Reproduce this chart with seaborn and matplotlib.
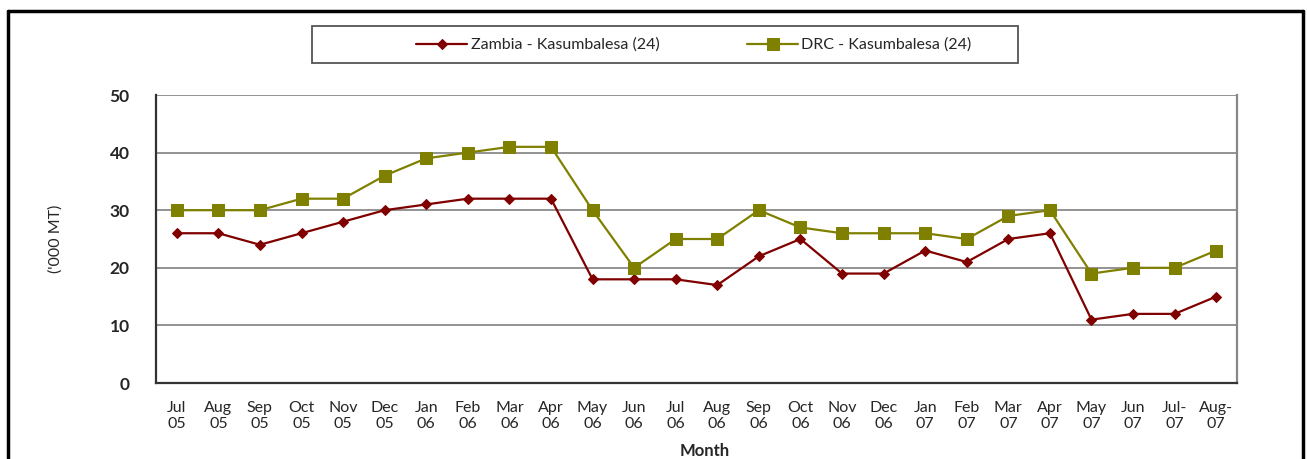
import pandas as pd
import matplotlib.pyplot as plt
import seaborn as sns
from matplotlib.lines import Line2D
from matplotlib.patches import Rectangle
from matplotlib.ticker import FixedLocator

months = ["Jul\n05", "Aug\n05", "Sep\n05", "Oct\n05", "Nov\n05", "Dec\n05",
          "Jan\n06", "Feb\n06", "Mar\n06", "Apr\n06", "May\n06", "Jun\n06",
          "Jul\n06", "Aug\n06", "Sep\n06", "Oct\n06", "Nov\n06", "Dec\n06",
          "Jan\n07", "Feb\n07", "Mar\n07", "Apr\n07", "May\n07", "Jun\n07",
          "Jul-\n07", "Aug-\n07"]
zambia = [26, 26, 24, 26, 28, 30, 31, 32, 32, 32, 18, 18, 18, 17, 22, 25,
          19, 19, 23, 21, 25, 26, 11, 12, 12, 15]
drc = [30, 30, 30, 32, 32, 36, 39, 40, 41, 41, 30, 20, 25, 25, 30, 27,
       26, 26, 26, 25, 29, 30, 19, 20, 20, 23]
series_names = ["Zambia - Kasumbalesa (24)", "DRC - Kasumbalesa (24)"]
colors = ["#800000", "#808000"]
markers = ["D", "s"]
marker_sizes = [5.5, 8.5]

sns.set_style("white")
plt.rcParams['font.family'] = ['Lato', 'DejaVu Sans']

W, H = 1307, 459
fig = plt.figure(figsize=(W / 100, H / 100), dpi=100)
ax = fig.add_axes([156 / W, 1 - 383 / H, (1237 - 156) / W, (383 - 95) / H])

x = list(range(len(months)))
for name, vals, c, m, ms in zip(series_names, [zambia, drc], colors, markers, marker_sizes):
    df = pd.DataFrame({"x": x, "value": vals})
    sns.lineplot(data=df, x="x", y="value", ax=ax, color=c, marker=m,
                 markersize=ms, markeredgecolor=c, linewidth=1.6, label=name)

ax.set_xlim(-0.5, len(months) - 0.5)
ax.set_ylim(0, 50)
ax.set_yticks([0, 10, 20, 30, 40, 50])
ax.set_yticklabels(["0", "10", "20", "30", "40", "50"], fontsize=12.5, fontweight="bold")
ax.set_xticks(x)
ax.set_xticklabels(months, fontsize=11.5, linespacing=1.15)
ax.xaxis.set_minor_locator(FixedLocator([i - 0.5 for i in range(len(months) + 1)]))
ax.tick_params(axis="x", which="major", length=0, pad=13)
ax.tick_params(axis="x", which="minor", length=5, width=1.2, color="#333333", direction="out")
ax.tick_params(axis="y", length=5, width=1.2, color="#333333", direction="out", pad=14)
ax.grid(axis="y", color="#808080", linewidth=1.2)
ax.set_axisbelow(True)

ax.spines["top"].set_visible(False)
ax.spines["left"].set_color("#333333")
ax.spines["left"].set_linewidth(1.6)
ax.spines["bottom"].set_color("#333333")
ax.spines["bottom"].set_linewidth(1.6)
ax.spines["right"].set_color("#888888")
ax.spines["right"].set_linewidth(1.6)

ax.set_xlabel("Month", fontsize=12, fontweight="bold")
ax.xaxis.set_label_coords(0.508, -0.21)
ax.set_ylabel("('000 MT)", fontsize=11.5)
ax.yaxis.set_label_coords(-0.086, 0.5)

# legend without frame, box drawn separately
leg = ax.legend(loc="center", bbox_to_anchor=(694 / W, 1 - 45 / H), bbox_transform=fig.transFigure,
                ncol=2, frameon=False, fontsize=11.5, handlelength=3.2, handletextpad=0.2,
                columnspacing=5.5)
fig.add_artist(Rectangle((312 / W, 1 - 63 / H), (1018 - 312) / W, 37 / H, transform=fig.transFigure,
                         fill=False, edgecolor="#555555", linewidth=1.3))

# outer border (left, top, right)
for xs, ys in [([8, 8], [H, 11]), ([8, 1303], [11, 11]), ([1303, 1303], [11, H])]:
    fig.add_artist(Line2D([v / W for v in xs], [1 - v / H for v in ys], color="black",
                          linewidth=2.5, transform=fig.transFigure))

fig.savefig("out.png", dpi=100)
